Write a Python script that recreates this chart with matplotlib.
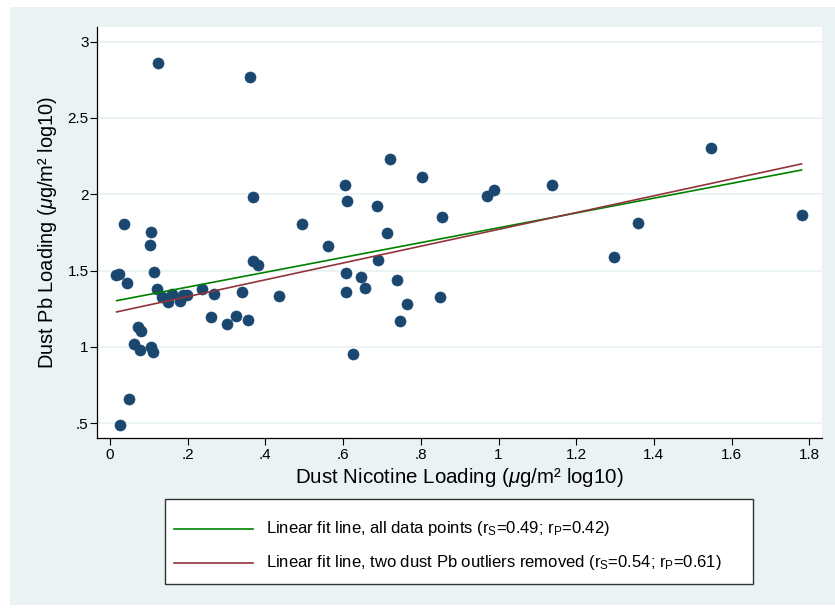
import numpy as np
import matplotlib
matplotlib.use("Agg")
import matplotlib.pyplot as plt
from matplotlib.patches import Rectangle
from matplotlib.lines import Line2D

plt.rcParams['font.family'] = ['Liberation Sans', 'DejaVu Sans']
plt.rcParams['mathtext.fontset'] = 'custom'
plt.rcParams['mathtext.rm'] = 'Liberation Sans'
plt.rcParams['mathtext.it'] = 'Liberation Sans:italic'
plt.rcParams['mathtext.bf'] = 'Liberation Sans:bold'

# ---- data ----
nicotine = [0.123, 0.361, 0.368, 0.036, 0.494, 0.106, 0.103, 0.560, 0.606, 0.611,
            0.015, 0.024, 0.045, 0.113, 0.369, 0.381, 0.607, 0.607, 0.120, 0.133,
            0.150, 0.159, 0.180, 0.189, 0.199, 0.236, 0.268, 0.341, 0.436, 0.259,
            0.302, 0.324, 0.355, 0.071, 0.080, 0.063, 0.076, 0.106, 0.110, 0.626,
            0.049, 0.025, 0.721, 0.802, 0.687, 0.970, 0.988, 1.137, 0.855, 0.713,
            0.690, 0.645, 0.656, 0.738, 0.765, 0.747, 0.849, 1.547, 1.358, 1.297,
            1.780]
lead = [2.858, 2.771, 1.980, 1.803, 1.803, 1.753, 1.666, 1.661, 2.063, 1.958,
        1.468, 1.476, 1.419, 1.493, 1.565, 1.537, 1.482, 1.360, 1.377, 1.329,
        1.296, 1.347, 1.301, 1.340, 1.340, 1.377, 1.345, 1.358, 1.332, 1.198,
        1.150, 1.204, 1.176, 1.132, 1.106, 1.019, 0.980, 1.001, 0.969, 0.953,
        0.657, 0.488, 2.229, 2.113, 1.923, 1.991, 2.030, 2.063, 1.851, 1.744,
        1.569, 1.456, 1.386, 1.438, 1.279, 1.170, 1.325, 2.303, 1.810, 1.591,
        1.866]

fit_x = [0.017, 1.780]
fit_all_y = [1.303, 2.159]
fit_trim_y = [1.229, 2.199]

legend_labels = [
    r"Linear fit line, all data points (r$_\mathregular{S}$=0.49; r$_\mathregular{P}$=0.42)",
    r"Linear fit line, two dust Pb outliers removed (r$_\mathregular{S}$=0.54; r$_\mathregular{P}$=0.61)",
]
xticks = [0, 0.2, 0.4, 0.6, 0.8, 1.0, 1.2, 1.4, 1.6, 1.8]
xticklabels = ['0', '.2', '.4', '.6', '.8', '1', '1.2', '1.4', '1.6', '1.8']
yticks = [0.5, 1, 1.5, 2, 2.5, 3]
yticklabels = ['.5', '1', '1.5', '2', '2.5', '3']

# ---- figure ----
W, H = 835, 610
fig = plt.figure(figsize=(W / 100, H / 100), dpi=100)
fig.patch.set_facecolor('white')
panel = '#eaf2f3'
fig.add_artist(Rectangle((10 / W, 0.008), 1 - 10 / W, 1 - 7 / H - 0.008,
                         transform=fig.transFigure, facecolor=panel,
                         edgecolor='none', zorder=-10))

ax = fig.add_axes([97 / W, 1 - 438 / H, (822 - 97) / W, (438 - 27) / H])
ax.set_facecolor('white')
ax.set_xlim(-0.0335, 1.8327)
ax.set_ylim(0.403, 3.096)

for s in ['top', 'right']:
    ax.spines[s].set_visible(False)
for s in ['left', 'bottom']:
    ax.spines[s].set_color('black')
    ax.spines[s].set_linewidth(0.9)

ax.set_xticks(xticks)
ax.set_xticklabels(xticklabels)
ax.set_yticks(yticks)
ax.set_yticklabels(yticklabels)
ax.tick_params(axis='both', direction='out', length=4.8, width=0.8,
               labelsize=11, colors='black')
ax.tick_params(axis='x', pad=2.5)
ax.tick_params(axis='y', pad=1.2)
ax.yaxis.grid(True, color=panel, linewidth=1.3)
ax.set_axisbelow(True)

ax.scatter(nicotine, lead, s=64, color='#1a476f', edgecolor='#1a476f',
           linewidth=0.4, zorder=3)
ln1, = ax.plot(fit_x, fit_all_y, color='#008000', lw=1.2, zorder=4)
ln2, = ax.plot(fit_x, fit_trim_y, color='#90353b', lw=1.2, zorder=4)

ax.set_xlabel(r"Dust Nicotine Loading ($\mathit{\mu}$g/m² log10)", fontsize=14.8,
              labelpad=3)
ax.set_ylabel(r"Dust Pb Loading ($\mathit{\mu}$g/m² log10)", fontsize=14.4,
              labelpad=6)

# ---- legend box ----
lx0, lx1 = 165 / W, 753 / W
ly0, ly1 = 1 - 584 / H, 1 - 499 / H
fig.add_artist(Rectangle((lx0, ly0), lx1 - lx0, ly1 - ly0,
                         transform=fig.transFigure, facecolor='white',
                         edgecolor='#333333', linewidth=1.0, zorder=5))
rows_y = [1 - 529 / H, 1 - 563 / H]
for handle, lab, yy in zip([ln1, ln2], legend_labels, rows_y):
    fig.add_artist(Line2D([174 / W, 253 / W], [yy, yy], transform=fig.transFigure,
                          color=handle.get_color(), lw=1.2, zorder=6))
    fig.text(266 / W, yy, lab, fontsize=12, va='center', ha='left', zorder=6)

fig.savefig('out.png', dpi=100)
